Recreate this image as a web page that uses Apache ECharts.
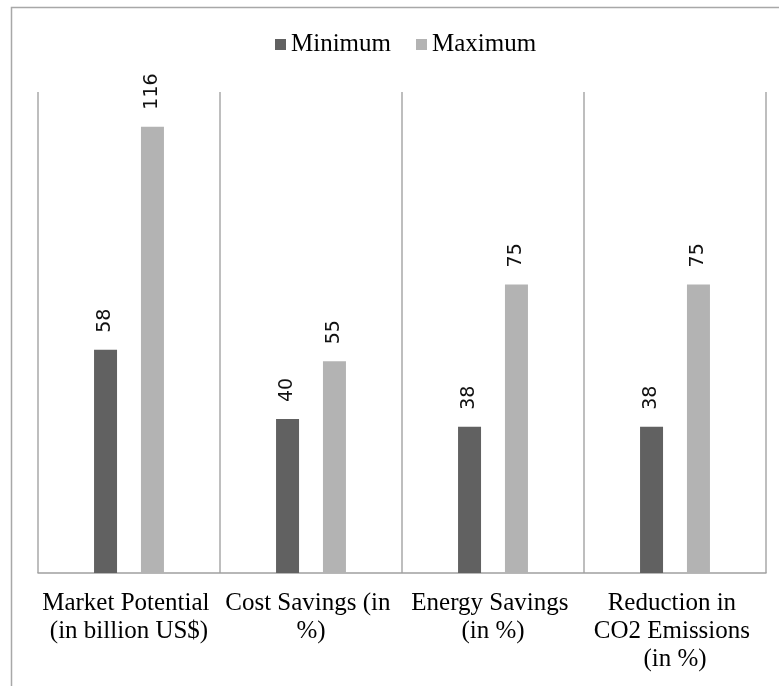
<!DOCTYPE html>
<html>
<head>
<meta charset="utf-8">
<script src="https://cdn.jsdelivr.net/npm/echarts@6/dist/echarts.min.js"></script>
<style>
html,body{margin:0;padding:0;background:#fff;}
#chart{width:779px;height:686px;}
</style>
</head>
<body>
<div id="chart"></div>
<script>
var categories = ["Market Potential (in billion US$)", "Cost Savings (in %)", "Energy Savings (in %)", "Reduction in CO2 Emissions (in %)"];
var minimumValues = [58, 40, 38, 38];
var maximumValues = [116, 55, 75, 75];
var seriesNames = ["Minimum", "Maximum"];

var serifFont = '"Liberation Serif", "Times New Roman", "DejaVu Serif", serif';
var chart = echarts.init(document.getElementById('chart'), null, {renderer: 'canvas'});
var labelStyle = {
  show: true,
  position: 'top',
  rotate: 90,
  align: 'left',
  verticalAlign: 'middle',
  distance: 17,
  fontFamily: '"DejaVu Sans", sans-serif',
  fontSize: 19,
  color: '#111'
};
chart.setOption({
  animation: false,
  backgroundColor: '#ffffff',
  graphic: [{
    type: 'rect',
    shape: {x: 11.5, y: 7.5, width: 900, height: 900},
    style: {fill: 'none', stroke: '#a8a8a8', lineWidth: 1.5},
    silent: true
  }],
  legend: {
    data: seriesNames,
    left: 275,
    top: 32,
    padding: 0,
    itemWidth: 11,
    itemHeight: 11,
    itemGap: 25,
    icon: 'rect',
    textStyle: {fontFamily: serifFont, fontSize: 25, color: '#000'}
  },
  grid: {left: 38, right: 13, top: 92, bottom: 113, containLabel: false},
  xAxis: {
    type: 'category',
    data: categories,
    axisLine: {show: true, lineStyle: {color: '#a0a0a0', width: 1.5}},
    axisTick: {show: false},
    splitLine: {show: true, lineStyle: {color: '#a8a8a8', width: 1.5}},
    axisLabel: {
      interval: 0,
      margin: 16,
      width: 176,
      overflow: 'break',
      lineHeight: 28,
      fontFamily: serifFont,
      fontSize: 25,
      color: '#000',
      align: 'center'
    }
  },
  yAxis: {
    type: 'value',
    min: 0,
    max: 125,
    show: false,
    splitLine: {show: false}
  },
  series: [
    {
      name: seriesNames[0],
      type: 'bar',
      data: minimumValues,
      barWidth: 23,
      barGap: '104%',
      itemStyle: {color: '#616161'},
      label: labelStyle
    },
    {
      name: seriesNames[1],
      type: 'bar',
      data: maximumValues,
      barWidth: 23,
      barGap: '104%',
      itemStyle: {color: '#b3b3b3'},
      label: labelStyle
    }
  ]
});
</script>
</body>
</html>
